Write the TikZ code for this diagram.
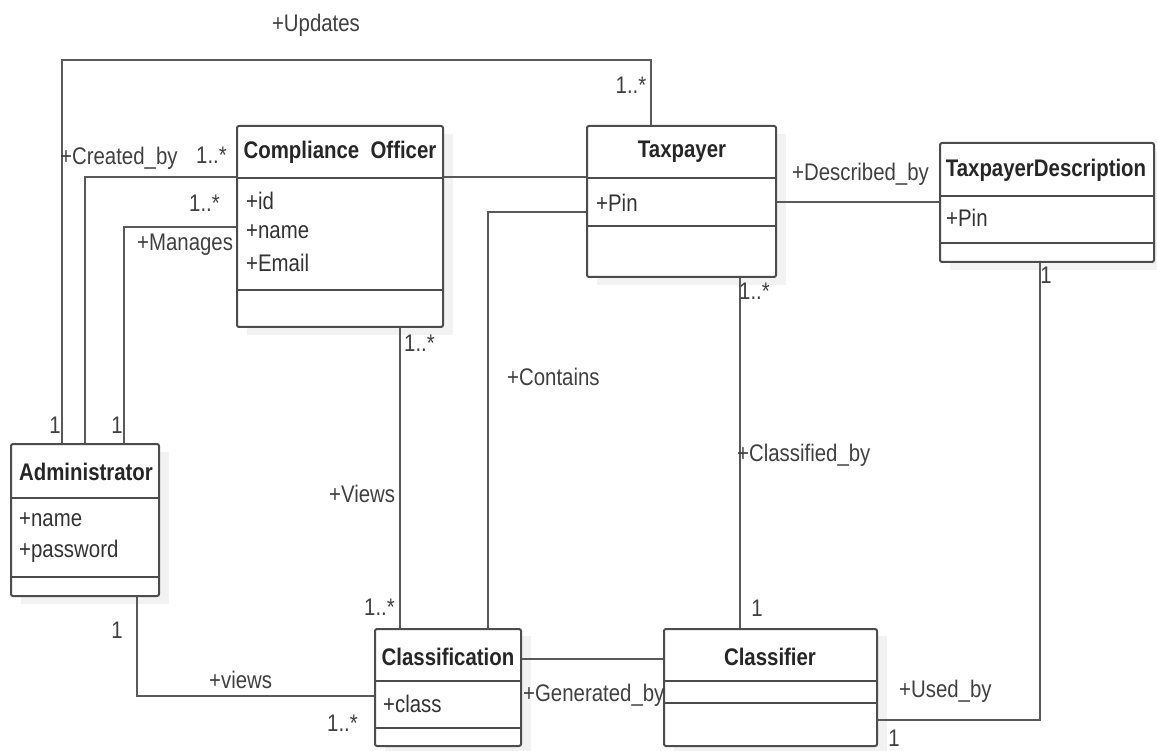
\documentclass[tikz,border=0pt]{standalone}
\usepackage{fontspec}
\setmainfont{Liberation Sans}[FakeStretch=0.85]
\usetikzlibrary{fit}

\newcommand{\umlsize}{\fontsize{24}{28}\selectfont}

\tikzset{
  umlbox/.style={draw=black!70, line width=2pt, rounded corners=2pt, inner sep=0pt, fill=white},
  umlshadow/.style={fill=black!5, draw=none},
  divider/.style={draw=black!70, line width=2pt},
  assoc/.style={draw=black!65, line width=2pt},
  classname/.style={font=\umlsize\bfseries, text=black!85, inner sep=0pt},
  attrtext/.style={anchor=west, text=black!80, inner sep=0pt},
  rolelabel/.style={text=black!75, inner sep=0pt},
}

\begin{document}
\begin{tikzpicture}[x=1pt, y=-1pt, font=\umlsize]
  \useasboundingbox (0,0) rectangle (1157,751);

  % shadows
  \fill[umlshadow] (247,134) rectangle (453,335);
  \fill[umlshadow] (597,134) rectangle (786,285);
  \fill[umlshadow] (950,151) rectangle (1157,270);
  \fill[umlshadow] (21,452) rectangle (169,604);
  \fill[umlshadow] (385,636) rectangle (531,751);
  \fill[umlshadow] (674,636) rectangle (887,751);

  % classes
  \node[umlbox, fit={(237,126) (443,327)}] (officer) {};
  \draw[divider] (officer.west |- 0,178) -- (officer.east |- 0,178);
  \draw[divider] (officer.west |- 0,290) -- (officer.east |- 0,290);
  \node[classname] (officername) at (340,152) {Compliance\ \ Officer};
  \node[attrtext] (officerid) at (246,201) {+id};
  \node[attrtext] (officerna) at (246,232) {+name};
  \node[attrtext] (officerem) at (246,263) {+Email};

  \node[umlbox, fit={(587,126) (776,277)}] (taxpayer) {};
  \draw[divider] (taxpayer.west |- 0,178) -- (taxpayer.east |- 0,178);
  \draw[divider] (taxpayer.west |- 0,226) -- (taxpayer.east |- 0,226);
  \node[classname] (taxpayername) at (682,152) {Taxpayer};
  \node[attrtext] (taxpayerpin) at (596,203) {+Pin};

  \node[umlbox, fit={(940,143) (1154,262)}] (taxdesc) {};
  \draw[divider] (taxdesc.west |- 0,196) -- (taxdesc.east |- 0,196);
  \draw[divider] (taxdesc.west |- 0,243) -- (taxdesc.east |- 0,243);
  \node[classname] (taxdescname) at (1046,170) {TaxpayerDescription};
  \node[attrtext] (taxdescpin) at (946,218) {+Pin};

  \node[umlbox, fit={(11,444) (159,596)}] (admin) {};
  \draw[divider] (admin.west |- 0,498) -- (admin.east |- 0,498);
  \draw[divider] (admin.west |- 0,577) -- (admin.east |- 0,577);
  \node[classname] (adminname) at (86,472) {Administrator};
  \node[attrtext] (adminna) at (19,520) {+name};
  \node[attrtext] (adminpw) at (19,551) {+password};

  \node[umlbox, fit={(375,629) (521,746)}] (classification) {};
  \draw[divider] (classification.west |- 0,681) -- (classification.east |- 0,681);
  \draw[divider] (classification.west |- 0,728) -- (classification.east |- 0,728);
  \node[classname] (classificationname) at (448,657) {Classification};
  \node[attrtext] (classificationcl) at (383,704) {+class};

  \node[umlbox, fit={(664,629) (877,746)}] (classifier) {};
  \draw[divider] (classifier.west |- 0,681) -- (classifier.east |- 0,681);
  \draw[divider] (classifier.west |- 0,703) -- (classifier.east |- 0,703);
  \node[classname] (classifiername) at (770,657) {Classifier};

  % associations
  \draw[assoc] (admin.north -| 62,0) -- (62,60) -| (taxpayer.north -| 651,0);
  \draw[assoc] (admin.north -| 85,0) |- (officer.west |- 0,177);
  \draw[assoc] (admin.north -| 124,0) |- (officer.west |- 0,227);
  \draw[assoc] (officer.east |- 0,177) -- (taxpayer.west |- 0,177);
  \draw[assoc] (taxpayer.west |- 0,212) -| (classification.north -| 488,0);
  \draw[assoc] (taxpayer.east |- 0,202) -- (taxdesc.west |- 0,202);
  \draw[assoc] (officer.south -| 400,0) -- (classification.north -| 400,0);
  \draw[assoc] (taxpayer.south -| 740,0) -- (classifier.north -| 740,0);
  \draw[assoc] (taxdesc.south -| 1040,0) |- (classifier.east |- 0,720);
  \draw[assoc] (classification.east |- 0,659) -- (classifier.west |- 0,659);
  \draw[assoc] (admin.south -| 137,0) |- (classification.west |- 0,696);

  % role names and multiplicities
  \node[rolelabel] (updates) at (316,25) {+Updates};
  \node[rolelabel] (updatesm) at (631,85) {1..*};
  \node[rolelabel] (updatesa) at (55,425) {1};
  \node[rolelabel, anchor=west] (createdby) at (60,158) {+Created\_by};
  \node[rolelabel, anchor=west] (createdm) at (196,155) {1..*};
  \node[rolelabel, anchor=west] (managesm) at (189,203) {1..*};
  \node[rolelabel, anchor=west] (manages) at (137,245) {+Manages};
  \node[rolelabel] (managesa) at (117,425) {1};
  \node[rolelabel, anchor=west] (viewsmo) at (404,343) {1..*};
  \node[rolelabel, anchor=west] (viewsco) at (329,494) {+Views};
  \node[rolelabel, anchor=west] (viewsmc) at (364,607) {1..*};
  \node[rolelabel, anchor=west] (contains) at (507,377) {+Contains};
  \node[rolelabel, anchor=west] (described) at (792,174) {+Described\_by};
  \node[rolelabel, anchor=west] (classifiedm) at (739,291) {1..*};
  \node[rolelabel, anchor=west] (classified) at (737,455) {+Classified\_by};
  \node[rolelabel] (classifiedo) at (757,608) {1};
  \node[rolelabel] (usedd) at (1046,275) {1};
  \node[rolelabel, anchor=west] (usedby) at (899,691) {+Used\_by};
  \node[rolelabel] (usedc) at (894,738) {1};
  \node[rolelabel, anchor=west] (generated) at (523,695) {+Generated\_by};
  \node[rolelabel, anchor=west] (viewsad) at (209,680) {+views};
  \node[rolelabel] (viewsadm) at (117,630) {1};
  \node[rolelabel, anchor=west] (viewsadc) at (327,723) {1..*};
\end{tikzpicture}
\end{document}
